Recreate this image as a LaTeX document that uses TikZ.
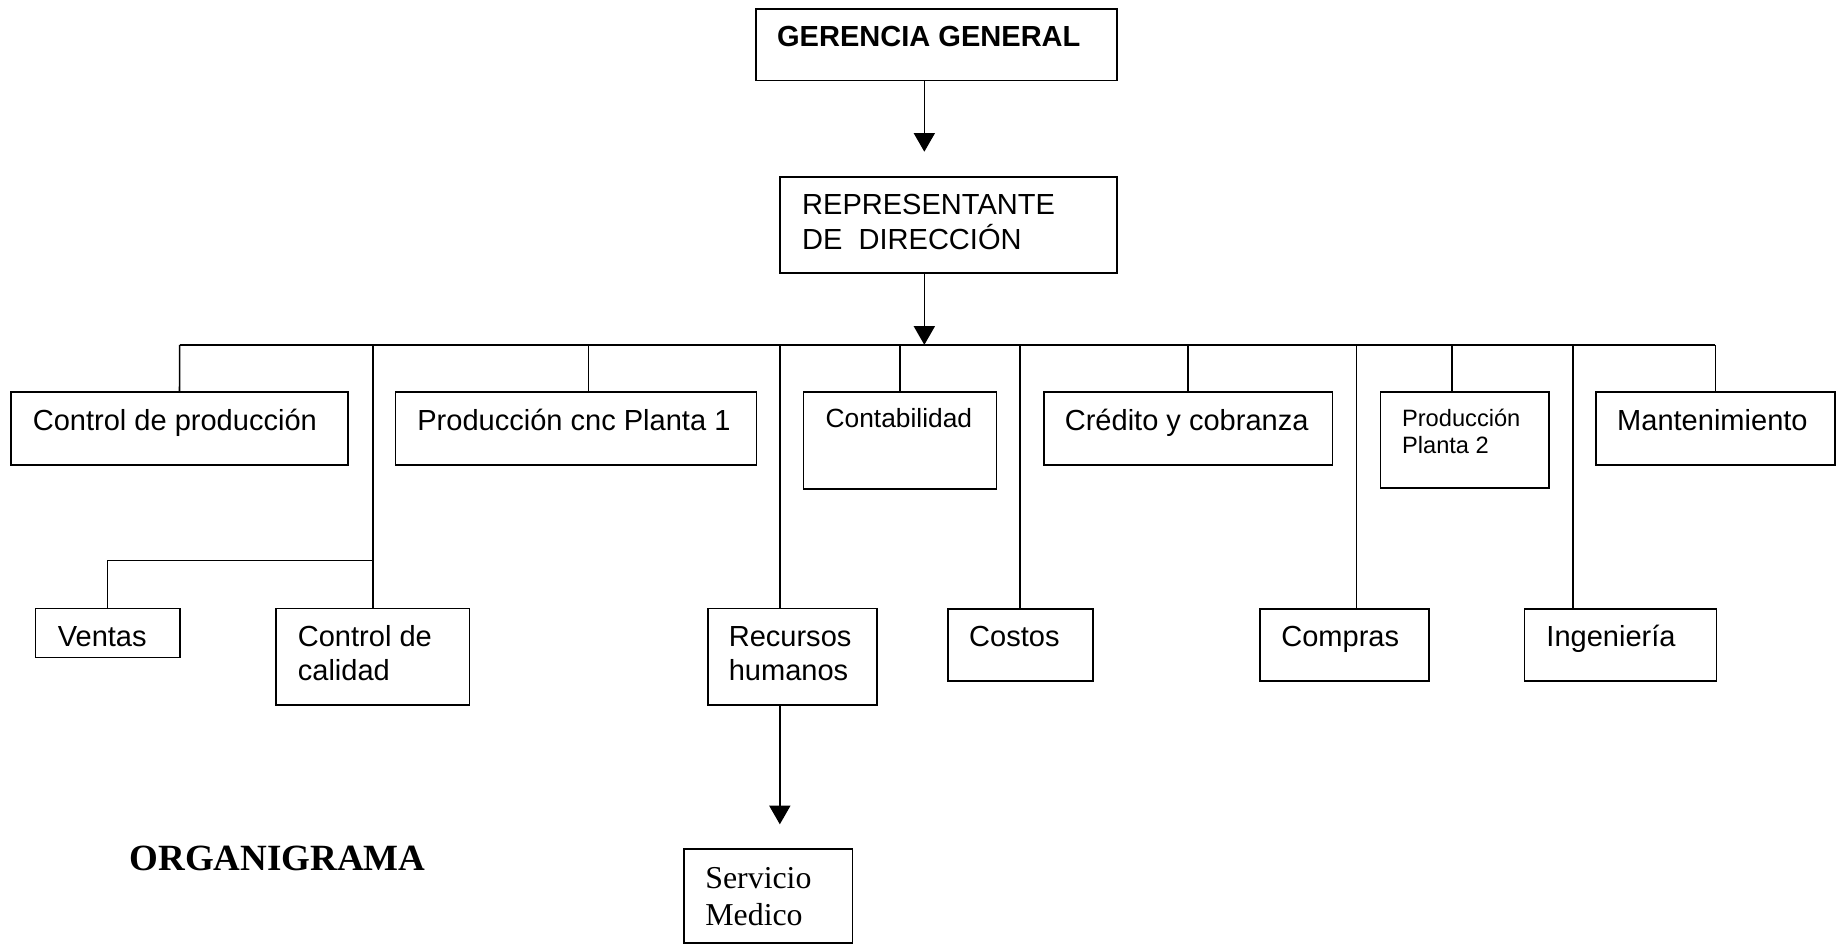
\documentclass[tikz,border=0pt]{standalone}
\usepackage{fontspec}
\setmainfont{Liberation Sans}
\newfontfamily\timesf{Liberation Serif}
\usetikzlibrary{arrows.meta}
\tikzset{
  box/.style={draw, line width=0.7pt, inner sep=0pt, outer sep=0pt, anchor=north west},
  lbl/.style={inner sep=0pt, anchor=base west, align=left},
  big/.style={lbl, font=\fontsize{12.4pt}{14.4pt}\selectfont},
  mid/.style={lbl, font=\fontsize{11.25pt}{13.5pt}\selectfont},
  sml/.style={lbl, font=\fontsize{10.1pt}{11.35pt}\selectfont},
  link/.style={line width=0.7pt},
  arr/.style={link, -{Triangle[width=9pt,length=8pt]}},
}
\begin{document}
\begin{tikzpicture}[x=0.5pt,y=-0.5pt]
\useasboundingbox (0,0) rectangle (1568,807);

% boxes
\node[box, minimum width=154.1pt, minimum height=30.6pt] (gg) at (645.5,7.7) {};
\node[box, minimum width=143.8pt, minimum height=41.25pt] (rd) at (666.1,150.9) {};
\node[box, minimum width=144.05pt, minimum height=31pt] (cp) at (9.3,335) {};
\node[box, minimum width=154.1pt, minimum height=31pt] (pc) at (337.8,335) {};
\node[box, minimum width=82.4pt, minimum height=41.3pt] (co) at (686.2,335) {};
\node[box, minimum width=123.25pt, minimum height=31pt] (cr) at (891.5,335) {};
\node[box, minimum width=71.9pt, minimum height=41pt] (p2) at (1179,335) {};
\node[box, minimum width=102pt, minimum height=31pt] (ma) at (1363,335) {};
\node[box, minimum width=61.55pt, minimum height=20.8pt] (ve) at (30.4,519.8) {};
\node[box, minimum width=82.6pt, minimum height=41.1pt] (cc) at (235.8,519.8) {};
\node[box, minimum width=72.3pt, minimum height=41.1pt] (rh) at (604.5,519.8) {};
\node[box, minimum width=61.95pt, minimum height=30.8pt] (cs) at (809.4,520) {};
\node[box, minimum width=72.2pt, minimum height=30.8pt] (cm) at (1076,520) {};
\node[box, minimum width=82pt, minimum height=30.8pt] (in) at (1302,520) {};
\node[box, minimum width=72pt, minimum height=40.25pt] (sm) at (584,725) {};

% texts (multi-line nodes are placed by the baseline of their last line)
\node[big, font=\fontsize{12.4pt}{14.4pt}\selectfont\bfseries] (tgg) at (663.3,39.9) {GERENCIA GENERAL};
\node[big, font=\fontsize{12.4pt}{14.65pt}\selectfont] (trd) at (684.7,212.9) {REPRESENTANTE\\DE\ \ DIRECCIÓN};
\node[big] (tcp) at (27.6,367.3) {Control de producción};
\node[big] (tpc) at (356,367.3) {Producción cnc Planta 1};
\node[mid] (tco) at (704.7,365) {Contabilidad};
\node[big] (tcr) at (909,367.3) {Crédito y cobranza};
\node[sml] (tp2) at (1197,387.1) {Producción\\Planta 2};
\node[big] (tma) at (1380.7,367.3) {Mantenimiento};
\node[big] (tve) at (49,552.3) {Ventas};
\node[big] (tcc) at (254,580.8) {Control de\\calidad};
\node[big] (trh) at (622,580.8) {Recursos\\humanos};
\node[big] (tcs) at (827.3,552.3) {Costos};
\node[big] (tcm) at (1093.9,552.3) {Compras};
\node[big] (tin) at (1320.3,552.3) {Ingeniería};
\node[lbl, font=\timesf\fontsize{13.6pt}{15.65pt}\selectfont] (tsm) at (602,790) {Servicio\\Medico};
\node[lbl, font=\timesf\bfseries\fontsize{15.8pt}{18pt}\selectfont] (title) at (110.3,743.6) {ORGANIGRAMA};

% connector coordinates
\coordinate (a1) at (789.4,129.6);
\coordinate (a2) at (789.4,294.5);
\coordinate (busL) at (153.4,294.5);
\coordinate (busR) at (1465,294.5);
\coordinate (dpc) at (502.6,294.5);
\coordinate (dp2) at (1240.3,294.5);
\coordinate (drh) at (666,294.5);
\coordinate (dcm) at (1158.5,294.5);
\coordinate (din) at (1343.5,294.5);
\coordinate (j) at (318.4,478.8);
\coordinate (a3) at (666,704);

% connectors
\draw[arr] (gg.south -| a1) -- (a1);
\draw[arr] (rd.south -| a2) -- (a2);
\draw[link] (busL) -- (busR);
\draw[link] (busL) -- (cp.north);
\draw[link] (dpc) -- (dpc |- pc.north);
\draw[link] (co.north |- busL) -- (co.north);
\draw[link] (cr.north |- busL) -- (cr.north);
\draw[link] (dp2) -- (dp2 |- p2.north);
\draw[link] (busR) -- (ma.north);
\draw[link] (cc.north |- busL) -- (cc.north);
\draw[link] (j) -| (ve.north);
\draw[link] (drh) -- (drh |- rh.north);
\draw[arr] (drh |- rh.south) -- (a3);
\draw[link] (cs.north |- busL) -- (cs.north);
\draw[link] (dcm) -- (dcm |- cm.north);
\draw[link] (din) -- (din |- in.north);
\end{tikzpicture}
\end{document}
